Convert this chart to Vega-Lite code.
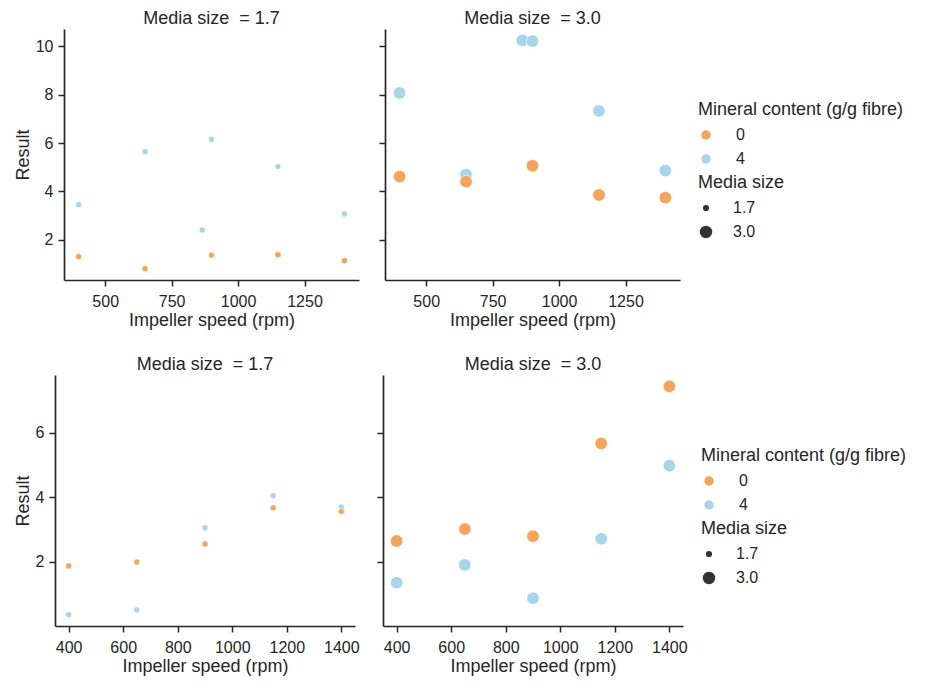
{
  "$schema": "https://vega.github.io/schema/vega-lite/v6.json",
  "background": "white",
  "padding": {"left": 14, "top": 10, "right": 5, "bottom": 5},
  "config": {
    "font": "Liberation Sans",
    "view": {"stroke": null},
    "axis": {
      "grid": false, "labelFont": "Liberation Sans", "titleFont": "Liberation Sans",
      "labelFontSize": 16, "titleFontSize": 18, "titleFontWeight": "normal",
      "labelColor": "#262626", "titleColor": "#262626", "domainColor": "#262626",
      "tickColor": "#262626", "domainWidth": 1.7, "tickWidth": 1.5, "tickSize": 6,
      "labelPadding": 5, "titlePadding": 3, "format": "d"
    },
    "axisX": {"labelPadding": 7, "titlePadding": 2},
    "title": {"fontSize": 18, "fontWeight": "normal", "color": "#262626", "font": "Liberation Sans", "offset": 1},
    "legend": {
      "titleFontSize": 18, "labelFontSize": 16, "titleFontWeight": "normal", "titleLimit": 400,
      "titleColor": "#262626", "labelColor": "#262626", "titleFont": "Liberation Sans", "labelFont": "Liberation Sans",
      "symbolStrokeWidth": 0, "labelOffset": 22, "rowPadding": 8, "titlePadding": 8
    },
    "concat": {"spacing": 20}
  },
  "datasets": {
    "pts": [
      {"row": "top", "media": 1.7, "mineral": "4", "speed": 400, "result": 3.45},
      {"row": "top", "media": 1.7, "mineral": "4", "speed": 650, "result": 5.64},
      {"row": "top", "media": 1.7, "mineral": "4", "speed": 865, "result": 2.40},
      {"row": "top", "media": 1.7, "mineral": "4", "speed": 900, "result": 6.15},
      {"row": "top", "media": 1.7, "mineral": "4", "speed": 1150, "result": 5.03},
      {"row": "top", "media": 1.7, "mineral": "4", "speed": 1400, "result": 3.07},
      {"row": "top", "media": 3.0, "mineral": "4", "speed": 400, "result": 8.07},
      {"row": "top", "media": 3.0, "mineral": "4", "speed": 650, "result": 4.69},
      {"row": "top", "media": 3.0, "mineral": "4", "speed": 862, "result": 10.25},
      {"row": "top", "media": 3.0, "mineral": "4", "speed": 900, "result": 10.22},
      {"row": "top", "media": 3.0, "mineral": "4", "speed": 1150, "result": 7.33},
      {"row": "top", "media": 3.0, "mineral": "4", "speed": 1400, "result": 4.86},
      {"row": "top", "media": 1.7, "mineral": "0", "speed": 400, "result": 1.30},
      {"row": "top", "media": 1.7, "mineral": "0", "speed": 650, "result": 0.80},
      {"row": "top", "media": 1.7, "mineral": "0", "speed": 900, "result": 1.36},
      {"row": "top", "media": 1.7, "mineral": "0", "speed": 1150, "result": 1.38},
      {"row": "top", "media": 1.7, "mineral": "0", "speed": 1400, "result": 1.13},
      {"row": "top", "media": 3.0, "mineral": "0", "speed": 400, "result": 4.61},
      {"row": "top", "media": 3.0, "mineral": "0", "speed": 650, "result": 4.40},
      {"row": "top", "media": 3.0, "mineral": "0", "speed": 900, "result": 5.06},
      {"row": "top", "media": 3.0, "mineral": "0", "speed": 1150, "result": 3.85},
      {"row": "top", "media": 3.0, "mineral": "0", "speed": 1400, "result": 3.74},
      {"row": "bottom", "media": 1.7, "mineral": "4", "speed": 400, "result": 0.36},
      {"row": "bottom", "media": 1.7, "mineral": "4", "speed": 650, "result": 0.51},
      {"row": "bottom", "media": 1.7, "mineral": "4", "speed": 900, "result": 3.05},
      {"row": "bottom", "media": 1.7, "mineral": "4", "speed": 1150, "result": 4.04},
      {"row": "bottom", "media": 1.7, "mineral": "4", "speed": 1400, "result": 3.69},
      {"row": "bottom", "media": 3.0, "mineral": "4", "speed": 400, "result": 1.35},
      {"row": "bottom", "media": 3.0, "mineral": "4", "speed": 650, "result": 1.90},
      {"row": "bottom", "media": 3.0, "mineral": "4", "speed": 900, "result": 0.87},
      {"row": "bottom", "media": 3.0, "mineral": "4", "speed": 1150, "result": 2.71},
      {"row": "bottom", "media": 3.0, "mineral": "4", "speed": 1400, "result": 4.97},
      {"row": "bottom", "media": 1.7, "mineral": "0", "speed": 400, "result": 1.87},
      {"row": "bottom", "media": 1.7, "mineral": "0", "speed": 650, "result": 1.99},
      {"row": "bottom", "media": 1.7, "mineral": "0", "speed": 900, "result": 2.55},
      {"row": "bottom", "media": 1.7, "mineral": "0", "speed": 1150, "result": 3.67},
      {"row": "bottom", "media": 1.7, "mineral": "0", "speed": 1400, "result": 3.56},
      {"row": "bottom", "media": 3.0, "mineral": "0", "speed": 400, "result": 2.64},
      {"row": "bottom", "media": 3.0, "mineral": "0", "speed": 650, "result": 3.01},
      {"row": "bottom", "media": 3.0, "mineral": "0", "speed": 900, "result": 2.79},
      {"row": "bottom", "media": 3.0, "mineral": "0", "speed": 1150, "result": 5.66},
      {"row": "bottom", "media": 3.0, "mineral": "0", "speed": 1400, "result": 7.43}
    ]
  },
  "data": {"name": "pts"},
  "spacing": 27,
  "resolve": {"scale": {"color": "independent", "size": "independent"}, "legend": {"color": "independent", "size": "independent"}},
  "vconcat": [
    {
      "spacing": 17,
      "hconcat": [
        {
          "title": {"text": "Media size\u00a0 = 1.7", "dx": 4.5},
          "width": 304, "height": 251,
          "transform": [{"filter": "datum.row === 'top' && datum.media === 1.7"}],
          "mark": {"type": "point", "filled": true, "opacity": 1, "stroke": "white", "strokeWidth": 0.6},
          "encoding": {
            "x": {"field": "speed", "type": "quantitative", "title": "Impeller speed (rpm)", "scale": {"domain": [345, 1455], "range": [9, 304], "nice": false, "zero": false}, "axis": {"values": [500, 750, 1000, 1250]}},
            "y": {"field": "result", "type": "quantitative", "title": "Result", "scale": {"domain": [0.33, 10.72], "nice": false, "zero": false}, "axis": {"values": [2, 4, 6, 8, 10], "offset": -9}},
            "color": {"field": "mineral", "type": "nominal", "title": "Mineral content (g/g fibre)", "scale": {"domain": ["0", "4"], "range": ["#F5A55A", "#A8D5EA"]}, "legend": {"orient": "none", "legendX": 643, "legendY": 72, "symbolSize": 90, "symbolType": "circle"}},
            "size": {"field": "media", "type": "quantitative", "title": "Media size", "scale": {"domain": [1.7, 3.0], "range": [38, 155]}, "legend": {"orient": "none", "legendX": 643, "legendY": 145, "values": [1.7, 3.0], "format": ".1f", "labelOffset": 19, "symbolFillColor": "#333333", "symbolType": "circle"}}
          }
        },
        {
          "title": {"text": "Media size\u00a0 = 3.0", "dx": 4.5},
          "width": 304, "height": 251,
          "transform": [{"filter": "datum.row === 'top' && datum.media === 3.0"}],
          "mark": {"type": "point", "filled": true, "opacity": 1, "stroke": "white", "strokeWidth": 0.6},
          "encoding": {
            "x": {"field": "speed", "type": "quantitative", "title": "Impeller speed (rpm)", "scale": {"domain": [345, 1455], "range": [9, 304], "nice": false, "zero": false}, "axis": {"values": [500, 750, 1000, 1250]}},
            "y": {"field": "result", "type": "quantitative", "title": null, "scale": {"domain": [0.33, 10.72], "nice": false, "zero": false}, "axis": {"values": [2, 4, 6, 8, 10], "labels": false, "offset": -9}},
            "color": {"field": "mineral", "type": "nominal", "title": "Mineral content (g/g fibre)", "scale": {"domain": ["0", "4"], "range": ["#F5A55A", "#A8D5EA"]}},
            "size": {"field": "media", "type": "quantitative", "title": "Media size", "scale": {"domain": [1.7, 3.0], "range": [38, 155]}}
          }
        }
      ]
    },
    {
      "spacing": 16,
      "hconcat": [
        {
          "title": "Media size\u00a0 = 1.7",
          "width": 300, "height": 251,
          "transform": [{"filter": "datum.row === 'bottom' && datum.media === 1.7"}],
          "mark": {"type": "point", "filled": true, "opacity": 1, "stroke": "white", "strokeWidth": 0.6},
          "encoding": {
            "x": {"field": "speed", "type": "quantitative", "title": "Impeller speed (rpm)", "scale": {"domain": [350, 1450], "nice": false, "zero": false}, "axis": {"values": [400, 600, 800, 1000, 1200, 1400]}},
            "y": {"field": "result", "type": "quantitative", "title": "Result", "scale": {"domain": [0.01, 7.78], "nice": false, "zero": false}, "axis": {"values": [2, 4, 6]}},
            "color": {"field": "mineral", "type": "nominal", "title": "Mineral content (g/g fibre)", "scale": {"domain": ["0", "4"], "range": ["#F5A55A", "#A8D5EA"]}, "legend": {"orient": "none", "legendX": 646, "legendY": 72, "symbolSize": 90, "symbolType": "circle"}},
            "size": {"field": "media", "type": "quantitative", "title": "Media size", "scale": {"domain": [1.7, 3.0], "range": [38, 155]}, "legend": {"orient": "none", "legendX": 646, "legendY": 145, "values": [1.7, 3.0], "format": ".1f", "labelOffset": 19, "symbolFillColor": "#333333", "symbolType": "circle"}}
          }
        },
        {
          "title": "Media size\u00a0 = 3.0",
          "width": 300, "height": 251,
          "transform": [{"filter": "datum.row === 'bottom' && datum.media === 3.0"}],
          "mark": {"type": "point", "filled": true, "opacity": 1, "stroke": "white", "strokeWidth": 0.6},
          "encoding": {
            "x": {"field": "speed", "type": "quantitative", "title": "Impeller speed (rpm)", "scale": {"domain": [350, 1450], "nice": false, "zero": false}, "axis": {"values": [400, 600, 800, 1000, 1200, 1400]}},
            "y": {"field": "result", "type": "quantitative", "title": null, "scale": {"domain": [0.01, 7.78], "nice": false, "zero": false}, "axis": {"values": [2, 4, 6], "labels": false}},
            "color": {"field": "mineral", "type": "nominal", "title": "Mineral content (g/g fibre)", "scale": {"domain": ["0", "4"], "range": ["#F5A55A", "#A8D5EA"]}},
            "size": {"field": "media", "type": "quantitative", "title": "Media size", "scale": {"domain": [1.7, 3.0], "range": [38, 155]}}
          }
        }
      ]
    }
  ]
}
